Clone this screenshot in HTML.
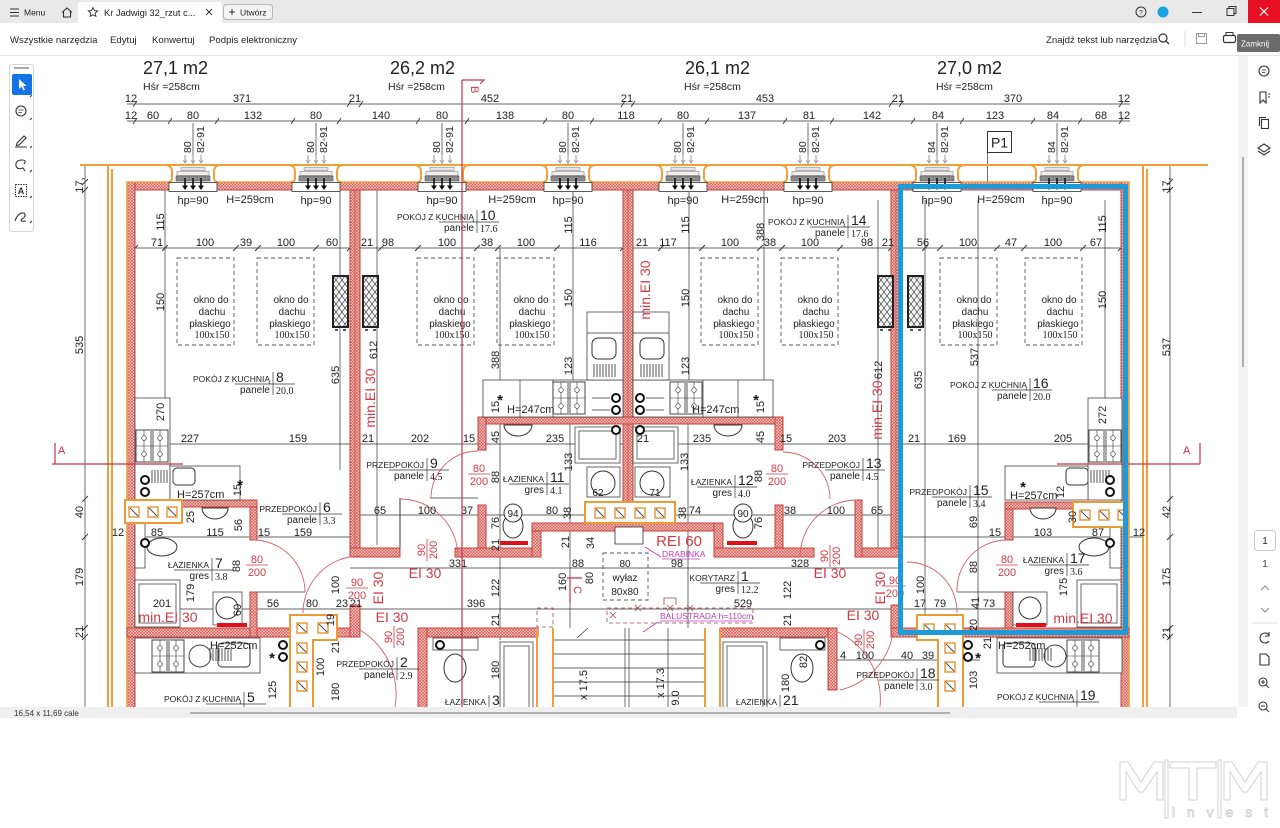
<!DOCTYPE html>
<html><head><meta charset="utf-8"><title>Kr Jadwigi 32 rzut</title>
<style>
html,body{margin:0;padding:0;background:#fff}
body{width:1280px;height:828px;overflow:hidden}
svg{display:block}
text{font-family:"Liberation Sans",sans-serif}
.d{font-size:11px;fill:#222}
.sm{font-size:10px;fill:#222}
.cap{font-size:8.5px;fill:#222}
.num{font-size:14px;fill:#222}
.ser{font-family:"Liberation Serif",serif;font-size:10px;fill:#222}
.rt{fill:#cf3b45}
.ln{stroke:#333;stroke-width:.7;fill:none}
.w{fill:url(#h);stroke:#c4403c;stroke-width:1}
.o{fill:none;stroke:#f0a03a;stroke-width:2}
.ob{fill:#fff;stroke:#ec9a33;stroke-width:2}
.k{fill:#fff;stroke:#444;stroke-width:.8}
.arc{fill:none;stroke:#d2616a;stroke-width:.9}
.ic{fill:none;stroke:#333;stroke-width:1.1}
.dash{fill:none;stroke:#555;stroke-width:.9;stroke-dasharray:4 3}
.bc{fill:#fff;stroke:#111;stroke-width:2}
</style></head><body>
<svg width="1280" height="828" viewBox="0 0 1280 828" xmlns="http://www.w3.org/2000/svg">
<defs>
<pattern id="h" patternUnits="userSpaceOnUse" width="3" height="3"><rect width="3" height="3" fill="#f5c6c1"/><path d="M0 0L3 3M3 0L0 3" stroke="#d4504a" stroke-width=".6"/></pattern>
<pattern id="xh" patternUnits="userSpaceOnUse" width="6" height="8"><rect width="6" height="8" fill="#f2f2f2"/><path d="M0 0L6 8M6 0L0 8" stroke="#333" stroke-width=".6"/></pattern>
<g id="vent">
<rect x="-24" y="166" width="48" height="26" fill="#fff"/>
<path d="M-28 165Q-21 165 -21 172V178Q-21 182 -25 182M28 165Q21 165 21 172V178Q21 182 25 182" fill="none" stroke="#f0a03a" stroke-width="2"/>
<rect x="-12" y="167.5" width="24" height="3" fill="#e6e6e6" stroke="#888" stroke-width=".6"/>
<rect x="-16" y="171.5" width="32" height="4" fill="#f0f0f0" stroke="#888" stroke-width=".6"/>
<rect x="-17" y="176" width="34" height="5" fill="#8a8a8a" stroke="#555" stroke-width=".6"/>
<rect x="-24" y="182.5" width="48" height="9" fill="#fff" stroke="#333" stroke-width=".8"/>
<path d="M-8 178V187M0 178V187M8 178V187" stroke="#111" stroke-width="1.6"/>
<path d="M-11 185.5L-8 190L-5 185.5ZM-3 185.5L0 190L3 185.5ZM5 185.5L8 190L11 185.5Z" fill="#111"/>
<path d="M-8 155V162M0 155V162M8 155V162" stroke="#999" stroke-width="1"/>
<path d="M-10 160L-8 163L-6 160M-2 160L0 163L2 160M6 160L8 163L10 160" fill="none" stroke="#999" stroke-width=".8"/>
</g>
<g id="stv"><rect x="0" y="0" width="32" height="32" fill="#fff" stroke="#333" stroke-width=".9"/><rect x="14" y="0" width="4" height="32" fill="#aaa"/><path d="M0 16H32M8 0V32M24 0V32" stroke="#333" stroke-width=".6"/><circle cx="8" cy="8" r="2.3" fill="#fff" stroke="#333" stroke-width=".7"/><circle cx="24" cy="8" r="2.3" fill="#fff" stroke="#333" stroke-width=".7"/><circle cx="8" cy="24" r="2.3" fill="#fff" stroke="#333" stroke-width=".7"/><circle cx="24" cy="24" r="2.3" fill="#fff" stroke="#333" stroke-width=".7"/></g>
<g id="sq"><rect x="0" y="0" width="10" height="10" fill="#fff" stroke="#e39432" stroke-width="1.4"/><path d="M1 1L9 9" stroke="#444" stroke-width=".9"/></g>
<g id="rad"><rect x="0" y="0" width="15" height="51" fill="url(#xh)" stroke="#222" stroke-width="2"/><path d="M2 54h3M10 54h3" stroke="#222" stroke-width="1.5"/></g>
<g id="grill"><path d="M0 0V13M3 0V13M6 0V13M9 0V13M12 0V13M15 0V13M18 0V13M21 0V13" stroke="#555" stroke-width="1"/></g>
<clipPath id="pg"><rect x="0" y="56" width="1237" height="651"/></clipPath>
</defs>

<!-- ===== window chrome ===== -->
<rect x="0" y="0" width="1280" height="23" fill="#e9e9e9"/>
<path d="M78 23V4Q78 2 80 2H220Q222 2 222 4V23Z" fill="#fff"/>
<path d="M10 9H19M10 12.5H19M10 16H19" stroke="#333" stroke-width="1.1"/>
<text x="24" y="15.5" font-size="8.5" fill="#222">Menu</text>
<path d="M62 12.5L67 8L72 12.5M63.5 11.5V17H70.5V11.5" class="ic"/>
<path d="M93 7.5L94.4 10.6L97.7 10.9L95.2 13.1L95.9 16.4L93 14.7L90.1 16.4L90.8 13.1L88.3 10.9L91.6 10.6Z" fill="none" stroke="#333" stroke-width=".9"/>
<text x="104" y="16" font-size="9.3" fill="#222">Kr Jadwigi 32_rzut c...</text>
<path d="M206 9L212 15M212 9L206 15" stroke="#333" stroke-width="1"/>
<rect x="223.5" y="4.5" width="49" height="15" rx="3" fill="#f3f3f3" stroke="#b8b8b8"/>
<path d="M229 12H235M232 9V15" stroke="#333" stroke-width="1"/>
<text x="240" y="15.5" font-size="8.5" fill="#222">Utwórz</text>
<circle cx="1141" cy="12" r="5" fill="none" stroke="#333"/><text x="1141" y="15" font-size="7" text-anchor="middle" fill="#333">?</text>
<circle cx="1163" cy="12" r="5.5" fill="#1ba1e2"/>
<path d="M1192 12.5H1202" stroke="#333"/>
<rect x="1227" y="8.5" width="7" height="7" fill="none" stroke="#333"/><path d="M1229 8.5V6.5H1236V13.5H1234" fill="none" stroke="#333"/>
<rect x="1248" y="0" width="32" height="23" fill="#e81123"/><path d="M1260 7.5L1268 15.5M1268 7.5L1260 15.5" stroke="#fff" stroke-width="1.2"/>

<g font-size="9.6" fill="#222"><text x="10" y="43">Wszystkie narzędzia</text><text x="110" y="43">Edytuj</text><text x="152" y="43">Konwertuj</text><text x="209" y="43">Podpis elektroniczny</text><text x="1046" y="43">Znajdź tekst lub narzędzia</text></g>
<circle cx="1163" cy="38" r="4" fill="none" stroke="#333" stroke-width="1.2"/><path d="M1166 41L1169 44" stroke="#333" stroke-width="1.3"/>
<path d="M1185 31V47" stroke="#ddd"/>
<rect x="1196.5" y="33.5" width="10" height="10" fill="none" stroke="#999"/><rect x="1198.5" y="33.5" width="6" height="3" fill="none" stroke="#999"/>
<rect x="1223.5" y="35.5" width="12" height="7" rx="1.5" fill="none" stroke="#333" stroke-width="1.2"/><rect x="1226" y="32.5" width="7" height="3" fill="none" stroke="#333"/>
<rect x="1237" y="34" width="43" height="18" rx="2" fill="#6b6b6b"/><text x="1241" y="46.5" font-size="8" fill="#fff">Zamknij</text>
<rect x="0" y="55" width="1280" height="1" fill="#e3e3e3"/>

<!-- ===== drawing ===== -->
<g clip-path="url(#pg)">
<g font-size="18" fill="#222"><text x="143" y="74">27,1 m2</text><text x="390" y="74">26,2 m2</text><text x="685" y="74">26,1 m2</text><text x="937" y="74">27,0 m2</text></g>
<g font-size="10.5" fill="#222"><text x="143" y="90">Hśr =258cm</text><text x="388" y="90">Hśr =258cm</text><text x="684" y="90">Hśr =258cm</text><text x="936" y="90">Hśr =258cm</text></g>

<!-- top dimension lines -->
<path class="ln" d="M127 104H1130M127 121H1130"/>
<path stroke="#333" stroke-width=".9" d="M133 107L137 101M347 107L351 101M359 107L363 101M621 107L625 101M631 107L635 101M889 107L893 101M899 107L903 101M1119 107L1123 101M133 124L137 118M168 124L172 118M215 124L219 118M291 124L295 118M337 124L341 118M416 124L420 118M465 124L469 118M543 124L547 118M590 124L594 118M658 124L662 118M705 124L709 118M783 124L787 118M830 124L834 118M911 124L915 118M960 124L964 118M1031 124L1035 118M1078 124L1082 118M1119 124L1123 118"/>
<g class="d" text-anchor="middle">
<text x="131" y="102">12</text><text x="242" y="102">371</text><text x="355" y="102">21</text><text x="490" y="102">452</text><text x="627" y="102">21</text><text x="765" y="102">453</text><text x="898" y="102">21</text><text x="1013" y="102">370</text><text x="1124" y="102">12</text>
<text x="131" y="119">12</text><text x="153" y="119">60</text><text x="193" y="119">80</text><text x="253" y="119">132</text><text x="316" y="119">80</text><text x="381" y="119">140</text><text x="442" y="119">80</text><text x="505" y="119">138</text><text x="568" y="119">80</text><text x="626" y="119">118</text><text x="683" y="119">80</text><text x="747" y="119">137</text><text x="809" y="119">81</text><text x="872" y="119">142</text><text x="938" y="119">84</text><text x="995" y="119">123</text><text x="1053" y="119">84</text><text x="1101" y="119">68</text><text x="1124" y="119">12</text>
</g>

<!-- vent leaders and dims -->
<path class="ln" d="M193 123V182M316 123V182M442 123V182M568 123V182M683 123V182M808 123V182M937 123V182M1057 123V182"/>
<g font-size="10.5" fill="#222">
<text transform="translate(191,153) rotate(-90)">80</text><text transform="translate(204,153) rotate(-90)">82-91</text>
<text transform="translate(314,153) rotate(-90)">80</text><text transform="translate(327,153) rotate(-90)">82-91</text>
<text transform="translate(440,153) rotate(-90)">80</text><text transform="translate(453,153) rotate(-90)">82-91</text>
<text transform="translate(566,153) rotate(-90)">80</text><text transform="translate(579,153) rotate(-90)">82-91</text>
<text transform="translate(681,153) rotate(-90)">80</text><text transform="translate(694,153) rotate(-90)">82-91</text>
<text transform="translate(806,153) rotate(-90)">80</text><text transform="translate(819,153) rotate(-90)">82-91</text>
<text transform="translate(935,153) rotate(-90)">84</text><text transform="translate(948,153) rotate(-90)">82-91</text>
<text transform="translate(1055,153) rotate(-90)">84</text><text transform="translate(1068,153) rotate(-90)">82-91</text>
</g>
<rect x="987.5" y="131.5" width="24" height="21" fill="#fff" stroke="#333" stroke-width="1"/>
<text x="999.5" y="147.5" font-size="14" text-anchor="middle" fill="#222">P1</text>
<path class="ln" d="M987.5 152V190"/>

<!-- long thin lines -->
<path class="ln" d="M135 248H1121M135 444H1121M357 515H897M127 537H355M900 537H1142M350 568H900M130 609H1007M835 660H980M430 498H478M253 592H305M957 592H1007"/>
<path class="ln" d="M165 190V440M340 190V470M377 190V545M500 248V640M573 190V417M570 417V628M689 190V417M688 417V628M764 190V417M878 200V555M925 200V620M978 200V630M1105 200V400M85 165V707M1170 165V707"/>
<path stroke="#333" stroke-width="1" fill="none" d="M400 498V557M857 500V557"/>
<path stroke="#333" stroke-width=".9" d="M82 185L88 179M82 193L88 187M82 502L88 496M82 540L88 534M82 631L88 625M82 640L88 634M1167 185L1173 179M1167 193L1173 187M1167 502L1173 496M1167 540L1173 534M1167 631L1173 625M1167 640L1173 634M132 251L138 245M162 251L168 245M233 251L239 245M255 251L261 245M313 251L319 245M347 251L353 245M378 251L384 245M415 251L421 245M474 251L480 245M495 251L501 245M554 251L560 245M620 251L626 245M658 251L664 245M699 251L705 245M757 251L763 245M779 251L785 245M837 251L843 245M888 251L894 245M922 251L928 245M937 251L943 245M994 251L1000 245M1021 251L1027 245M1080 251L1086 245M1118 251L1124 245"/>

<!-- outer orange -->
<path class="o" d="M80 165H1208M108 165V707M112 169V707M1143 165V707M1147 169V707"/>

<!-- walls -->
<rect class="w" x="127" y="182" width="1002" height="8"/>
<rect class="w" x="127" y="182" width="8" height="530"/>
<rect class="w" x="1121" y="182" width="8" height="530"/>
<path d="M127 182H1129M127 182V707M1129 182V707" fill="none" stroke="#f0a03a" stroke-width="1.6"/>
<rect class="w" x="350" y="190" width="10" height="367"/>
<rect class="w" x="623" y="190" width="10" height="333"/>
<rect class="w" x="891" y="190" width="10" height="367"/>
<path d="M355 190V557M628 190V523M896 190V557" stroke="#c4403c" stroke-width=".7"/>
<rect class="w" x="478" y="417" width="305" height="7"/>
<rect class="w" x="478" y="417" width="8" height="33"/>
<rect class="w" x="478" y="505" width="8" height="52"/>
<rect class="w" x="775" y="417" width="8" height="33"/>
<rect class="w" x="775" y="505" width="8" height="52"/>
<rect class="w" x="350" y="548" width="50" height="9"/>
<rect class="w" x="455" y="548" width="85" height="9"/>
<rect class="w" x="532" y="523" width="9" height="34"/>
<rect class="w" x="532" y="523" width="190" height="8"/>
<rect class="w" x="714" y="523" width="9" height="34"/>
<rect class="w" x="714" y="548" width="100" height="9"/>
<rect class="w" x="857" y="548" width="44" height="9"/>
<rect class="w" x="855" y="500" width="7" height="57"/>
<rect class="w" x="127" y="628" width="163" height="9"/>
<rect class="w" x="250" y="500" width="7" height="40"/>
<rect class="w" x="250" y="592" width="7" height="45"/>
<rect class="w" x="180" y="500" width="77" height="7"/>
<rect class="w" x="337" y="628" width="23" height="9"/>
<rect class="w" x="350" y="605" width="10" height="32"/>
<rect class="w" x="418" y="628" width="120" height="9"/>
<rect class="w" x="418" y="628" width="9" height="80"/>
<rect class="w" x="720" y="628" width="117" height="9"/>
<rect class="w" x="828" y="628" width="9" height="62"/>
<rect class="w" x="891" y="605" width="10" height="32"/>
<rect class="w" x="891" y="628" width="26" height="9"/>
<rect class="w" x="1005" y="502" width="8" height="38"/>
<rect class="w" x="1005" y="592" width="8" height="40"/>
<rect class="w" x="1005" y="502" width="68" height="7"/>
<rect class="w" x="963" y="628" width="166" height="9"/>

<!-- vents -->
<use href="#vent" x="193"/><use href="#vent" x="316"/><use href="#vent" x="442"/><use href="#vent" x="568"/><use href="#vent" x="683"/><use href="#vent" x="808"/><use href="#vent" x="937"/><use href="#vent" x="1057"/>
<g class="d" text-anchor="middle"><text x="193" y="204">hp=90</text><text x="316" y="204">hp=90</text><text x="442" y="204">hp=90</text><text x="568" y="204">hp=90</text><text x="683" y="204">hp=90</text><text x="808" y="204">hp=90</text><text x="937" y="204">hp=90</text><text x="1057" y="204">hp=90</text>
<text x="250" y="203">H=259cm</text><text x="512" y="203">H=259cm</text><text x="745" y="203">H=259cm</text><text x="1001" y="203">H=259cm</text></g>

<!-- roof windows -->
<g class="dash"><rect x="177" y="258" width="57" height="87"/><rect x="257" y="258" width="57" height="87"/><rect x="417" y="258" width="57" height="87"/><rect x="497" y="258" width="57" height="87"/><rect x="701" y="258" width="57" height="87"/><rect x="781" y="258" width="57" height="87"/><rect x="940" y="258" width="57" height="87"/><rect x="1025" y="258" width="57" height="87"/></g>
<g font-size="9.8" fill="#222" text-anchor="middle">
<text x="211" y="303">okno do</text><text x="212" y="315">dachu</text><text x="210" y="327">płaskiego</text><text x="212" y="338" class="ser">100x150</text>
<text x="291" y="303">okno do</text><text x="292" y="315">dachu</text><text x="290" y="327">płaskiego</text><text x="292" y="338" class="ser">100x150</text>
<text x="451" y="303">okno do</text><text x="452" y="315">dachu</text><text x="450" y="327">płaskiego</text><text x="452" y="338" class="ser">100x150</text>
<text x="531" y="303">okno do</text><text x="532" y="315">dachu</text><text x="530" y="327">płaskiego</text><text x="532" y="338" class="ser">100x150</text>
<text x="735" y="303">okno do</text><text x="736" y="315">dachu</text><text x="734" y="327">płaskiego</text><text x="736" y="338" class="ser">100x150</text>
<text x="815" y="303">okno do</text><text x="816" y="315">dachu</text><text x="814" y="327">płaskiego</text><text x="816" y="338" class="ser">100x150</text>
<text x="974" y="303">okno do</text><text x="975" y="315">dachu</text><text x="973" y="327">płaskiego</text><text x="975" y="338" class="ser">100x150</text>
<text x="1059" y="303">okno do</text><text x="1060" y="315">dachu</text><text x="1058" y="327">płaskiego</text><text x="1060" y="338" class="ser">100x150</text>
</g>
<use href="#rad" x="333" y="276"/><use href="#rad" x="363" y="276"/><use href="#rad" x="878" y="276"/><use href="#rad" x="908" y="276"/>

<!-- kitchens -->
<rect class="k" x="483" y="380" width="140" height="37"/><path class="ln" d="M520 380V417M553 380V417"/>
<use href="#stv" x="553" y="382"/>
<rect class="k" x="587" y="312" width="36" height="68"/><path class="ln" d="M587 333H623"/>
<rect x="592" y="338" width="24" height="21" rx="6" fill="#fff" stroke="#333"/><use href="#grill" x="594" y="364"/>
<rect class="k" x="633" y="380" width="140" height="37"/><path class="ln" d="M703 380V417M738 380V417"/>
<use href="#stv" x="670" y="382"/>
<rect class="k" x="633" y="312" width="36" height="68"/><path class="ln" d="M633 333H669"/>
<rect x="640" y="338" width="24" height="21" rx="6" fill="#fff" stroke="#333"/><use href="#grill" x="641" y="364"/>
<path class="ln" d="M592 398H610M592 410H610M592 430H610M646 398H664M646 410H664M646 430H664"/>
<rect class="k" x="135" y="398" width="35" height="102"/><use href="#stv" x="136" y="430"/>
<rect class="k" x="170" y="466" width="70" height="34"/><rect x="173" y="468" width="22" height="17" rx="4" fill="#fff" stroke="#333"/><use href="#grill" x="152" y="470"/>
<rect class="k" x="1088" y="398" width="34" height="102"/><use href="#stv" x="1089" y="430"/>
<rect class="k" x="1005" y="466" width="83" height="34"/><rect x="1066" y="468" width="22" height="17" rx="4" fill="#fff" stroke="#333"/><use href="#grill" x="1088" y="470"/>
<rect class="k" x="135" y="638" width="125" height="35"/><use href="#stv" x="152" y="640"/><circle cx="200" cy="656" r="11" fill="none" stroke="#444"/><rect x="218" y="643" width="32" height="24" rx="4" fill="#fff" stroke="#333"/><use href="#grill" x="210" y="648"/>
<rect class="k" x="997" y="638" width="125" height="35"/><use href="#stv" x="1067" y="640"/><circle cx="1055" cy="656" r="11" fill="none" stroke="#444"/><rect x="1003" y="643" width="32" height="24" rx="4" fill="#fff" stroke="#333"/><use href="#grill" x="1030" y="648"/>

<!-- bathrooms -->
<path d="M504 425A14 11 0 0 0 532 425Z" fill="#fff" stroke="#333"/><path d="M714 425A14 11 0 0 0 742 425Z" fill="#fff" stroke="#333"/>
<path d="M202 508A13 11 0 0 0 228 508Z" fill="#fff" stroke="#333"/><path d="M1030 508A13 11 0 0 0 1056 508Z" fill="#fff" stroke="#333"/>
<rect class="k" x="575" y="427" width="45" height="36"/><rect class="k" x="579" y="431" width="37" height="28"/>
<rect class="k" x="633" y="427" width="45" height="36"/><rect class="k" x="637" y="431" width="37" height="28"/>
<rect class="k" x="587" y="467" width="33" height="30"/><circle cx="603" cy="483" r="12" fill="none" stroke="#333"/>
<rect class="k" x="635" y="467" width="35" height="30"/><circle cx="652" cy="483" r="12" fill="none" stroke="#333"/>
<ellipse cx="513" cy="526" rx="10" ry="12" fill="#fff" stroke="#333"/><circle cx="513" cy="513" r="9" fill="#fff" stroke="#333"/>
<ellipse cx="743" cy="526" rx="10" ry="12" fill="#fff" stroke="#333"/><circle cx="743" cy="513" r="9" fill="#fff" stroke="#333"/>
<rect class="k" x="135" y="523" width="10" height="45"/><ellipse cx="162" cy="547" rx="15" ry="9" fill="#fff" stroke="#333"/>
<rect class="k" x="1110" y="523" width="11" height="45"/><ellipse cx="1094" cy="547" rx="15" ry="9" fill="#fff" stroke="#333"/>
<rect class="k" x="135" y="580" width="45" height="47"/><rect class="k" x="139" y="584" width="37" height="39"/>
<rect class="k" x="1077" y="580" width="44" height="47"/><rect class="k" x="1081" y="584" width="36" height="39"/>
<rect class="k" x="213" y="592" width="29" height="33"/><circle cx="227" cy="608" r="11" fill="none" stroke="#333"/>
<rect class="k" x="1013" y="592" width="34" height="33"/><circle cx="1030" cy="608" r="11" fill="none" stroke="#333"/>
<g fill="#e0101a"><rect x="500" y="541" width="28" height="4"/><rect x="727" y="541" width="30" height="4"/><rect x="217" y="623" width="30" height="4"/><rect x="1016" y="623" width="30" height="4"/></g>
<ellipse cx="455" cy="668" rx="11" ry="14" fill="#fff" stroke="#333"/><rect class="k" x="433" y="638" width="45" height="12"/>
<ellipse cx="802" cy="668" rx="11" ry="14" fill="#fff" stroke="#333"/><rect class="k" x="780" y="638" width="45" height="12"/>
<rect class="k" x="500" y="642" width="33" height="70"/><rect class="k" x="504" y="646" width="25" height="66"/>
<rect class="k" x="723" y="642" width="44" height="70"/><rect class="k" x="727" y="646" width="36" height="66"/>

<!-- stairs -->
<path class="ln" d="M553 640H705M553 654H705M553 668H705M553 682H705M553 696H705M625 628V707M629 628V707M668 628V707M577 638L588 628"/>
<path class="o" d="M537 628V707M553 628V707M705 628V707M720 628V707"/>
<rect x="615" y="527" width="28" height="17" fill="#fff" stroke="#333" stroke-width=".8"/>
<rect class="dash" x="603" y="553" width="45" height="47"/>
<path d="M607 608H753V623H607Z" fill="none" stroke="#a14b4b" stroke-width=".8" stroke-dasharray="4 3"/>
<rect x="537" y="608" width="16" height="19" fill="none" stroke="#a14b4b" stroke-width=".8" stroke-dasharray="4 3"/>
<path d="M635 605L641 611M641 605L635 611M667 605L673 611M673 605L667 611M687 605L693 611M693 605L687 611M610 612L616 618M616 612L610 618M664 605V598H676V605" stroke="#a14b4b" stroke-width=".8" fill="none"/>

<!-- orange shaft boxes -->
<rect class="ob" x="125" y="500" width="57" height="23"/><use href="#sq" x="129" y="507"/><use href="#sq" x="148" y="507"/><use href="#sq" x="167" y="507"/>
<rect class="ob" x="1073" y="502" width="55" height="25"/><use href="#sq" x="1080" y="510"/><use href="#sq" x="1099" y="510"/><use href="#sq" x="1118" y="510"/>
<rect class="ob" x="585" y="502" width="90" height="21"/><use href="#sq" x="595" y="508"/><use href="#sq" x="615" y="508"/><use href="#sq" x="635" y="508"/><use href="#sq" x="655" y="508"/>
<path class="ob" d="M290 615H337V640H313V712H290Z"/><use href="#sq" x="297" y="623"/><use href="#sq" x="318" y="623"/><use href="#sq" x="297" y="643"/><use href="#sq" x="297" y="662"/><use href="#sq" x="297" y="681"/>
<path class="ob" d="M917 615H963V712H938V640H917Z"/><use href="#sq" x="924" y="624"/><use href="#sq" x="945" y="624"/><use href="#sq" x="945" y="643"/><use href="#sq" x="945" y="662"/><use href="#sq" x="945" y="681"/>

<!-- black circles -->
<g class="bc"><circle cx="616" cy="398" r="4"/><circle cx="616" cy="410" r="4"/><circle cx="616" cy="430" r="4"/><circle cx="640" cy="398" r="4"/><circle cx="640" cy="410" r="4"/><circle cx="640" cy="430" r="4"/><circle cx="145" cy="480" r="4"/><circle cx="145" cy="492" r="4"/><circle cx="145" cy="543" r="4"/><circle cx="283" cy="645" r="4"/><circle cx="283" cy="657" r="4"/><circle cx="1110" cy="480" r="4"/><circle cx="1110" cy="492" r="4"/><circle cx="1110" cy="543" r="4"/><circle cx="968" cy="645" r="4"/><circle cx="968" cy="657" r="4"/><circle cx="440" cy="645" r="4"/><circle cx="820" cy="645" r="4"/></g>

<!-- door arcs -->
<g class="arc">
<path d="M400 499A58 58 0 0 1 458 557"/>
<path d="M431 498A47 47 0 0 1 478 451"/>
<path d="M783 452A47 47 0 0 1 830 499"/>
<path d="M857 500A57 57 0 0 0 800 557"/>
<path d="M253 540A52 52 0 0 1 305 592"/>
<path d="M1007 540A50 50 0 0 0 957 592"/>
<path d="M303 613A57 57 0 0 1 360 556"/>
<path d="M360 630A75 75 0 0 1 395 707"/>
<path d="M907 562A50 50 0 0 1 957 613"/>
<path d="M893 633A70 70 0 0 1 840 690"/>
<path d="M838 632A75 75 0 0 1 880 707"/>
</g>

<!-- dimension numbers -->
<g class="d" text-anchor="middle">
<text x="157" y="246">71</text><text x="205" y="246">100</text><text x="246" y="246">39</text><text x="286" y="246">100</text><text x="332" y="246">60</text><text x="367" y="246">21</text><text x="388" y="246">98</text><text x="447" y="246">100</text><text x="487" y="246">38</text><text x="526" y="246">100</text><text x="588" y="246">116</text><text x="642" y="246">21</text><text x="668" y="246">117</text><text x="730" y="246">100</text><text x="770" y="246">38</text><text x="810" y="246">100</text><text x="867" y="246">98</text><text x="888" y="246">21</text><text x="923" y="246">56</text><text x="968" y="246">100</text><text x="1011" y="246">47</text><text x="1053" y="246">100</text><text x="1096" y="246">67</text>
<text x="190" y="442">227</text><text x="298" y="442">159</text><text x="368" y="442">21</text><text x="420" y="442">202</text><text x="469" y="442">15</text><text x="555" y="442">235</text><text x="643" y="442">21</text><text x="702" y="442">235</text><text x="786" y="442">15</text><text x="837" y="442">203</text><text x="914" y="442">21</text><text x="957" y="442">169</text><text x="1063" y="442">205</text>
<text x="380" y="514">65</text><text x="427" y="514">100</text><text x="467" y="514">37</text><text x="513" y="517" font-size="10">94</text><text x="552" y="514">80</text><text x="695" y="514">74</text><text x="743" y="517" font-size="10">90</text><text x="790" y="514">38</text><text x="836" y="514">100</text><text x="877" y="514">65</text>
<text x="118" y="536">12</text><text x="157" y="536">85</text><text x="215" y="536">115</text><text x="264" y="536">15</text><text x="303" y="536">159</text><text x="995" y="536">15</text><text x="1043" y="536">103</text><text x="1098" y="536">87</text><text x="1139" y="536">12</text>
<text x="458" y="567">331</text><text x="578" y="567">88</text><text x="677" y="567">98</text><text x="800" y="567">328</text>
<text x="162" y="607">201</text><text x="273" y="607">56</text><text x="312" y="607">80</text><text x="342" y="607">23</text><text x="356" y="607">21</text><text x="476" y="607">396</text><text x="743" y="607">529</text><text x="920" y="607">17</text><text x="940" y="607">79</text><text x="989" y="607">73</text>
<text x="843" y="659">4</text><text x="865" y="659">100</text><text x="907" y="659">40</text><text x="928" y="659">39</text>
<text x="598" y="496" font-size="10">62</text><text x="655" y="496" font-size="10">71</text>
</g>
<g class="d" text-anchor="middle">
<text transform="translate(83,185) rotate(-90)">17,</text><text transform="translate(83,345) rotate(-90)">535</text><text transform="translate(83,512) rotate(-90)">40</text><text transform="translate(83,577) rotate(-90)">179</text><text transform="translate(83,632) rotate(-90)">21</text>
<text transform="translate(1170,185) rotate(-90)">17,</text><text transform="translate(1170,347) rotate(-90)">537</text><text transform="translate(1170,512) rotate(-90)">42</text><text transform="translate(1170,577) rotate(-90)">175</text><text transform="translate(1170,633) rotate(-90)">21</text>
<text transform="translate(164,222) rotate(-90)">115</text><text transform="translate(164,302) rotate(-90)">150</text><text transform="translate(164,412) rotate(-90)">270</text>
<text transform="translate(339,375) rotate(-90)">635</text><text transform="translate(377,350) rotate(-90)">612</text>
<text transform="translate(499,360) rotate(-90)">388</text><text transform="translate(499,407) rotate(-90)">15</text><text transform="translate(499,437) rotate(-90)">45</text><text transform="translate(499,477) rotate(-90)">88</text><text transform="translate(499,523) rotate(-90)">76</text><text transform="translate(499,545) rotate(-90)">21</text>
<text transform="translate(572,225) rotate(-90)">115</text><text transform="translate(572,298) rotate(-90)">150</text><text transform="translate(572,366) rotate(-90)">123</text><text transform="translate(572,462) rotate(-90)">133</text>
<text transform="translate(689,225) rotate(-90)">115</text><text transform="translate(689,298) rotate(-90)">150</text><text transform="translate(689,366) rotate(-90)">123</text><text transform="translate(688,462) rotate(-90)">133</text>
<text transform="translate(764,232) rotate(-90)">388</text><text transform="translate(764,407) rotate(-90)">15</text><text transform="translate(764,437) rotate(-90)">45</text><text transform="translate(762,476) rotate(-90)">88</text><text transform="translate(762,523) rotate(-90)">76</text>
<text transform="translate(882,370) rotate(-90)">612</text><text transform="translate(922,380) rotate(-90)">635</text><text transform="translate(978,357) rotate(-90)">537</text>
<text transform="translate(1106,224) rotate(-90)">115</text><text transform="translate(1106,300) rotate(-90)">150</text><text transform="translate(1106,415) rotate(-90)">272</text>
<text transform="translate(977,522) rotate(-90)">69</text><text transform="translate(977,567) rotate(-90)">88</text><text transform="translate(977,625) rotate(-90)">20</text><text transform="translate(979,603) rotate(-90)">41</text><text transform="translate(924,585) rotate(-90)">100</text><text transform="translate(1067,587) rotate(-90)">175</text><text transform="translate(1076,517) rotate(-90)">30</text><text transform="translate(1064,492) rotate(-90)">12</text><text transform="translate(991,643) rotate(-90)">21</text><text transform="translate(977,680) rotate(-90)">103</text>
<text transform="translate(194,517) rotate(-90)">25</text><text transform="translate(242,525) rotate(-90)">56</text><text transform="translate(240,566) rotate(-90)">88</text><text transform="translate(194,593) rotate(-90)">179</text><text transform="translate(241,610) rotate(-90)">60</text><text transform="translate(339,585) rotate(-90)">100</text><text transform="translate(334,620) rotate(-90)">19</text><text transform="translate(339,647) rotate(-90)">21</text><text transform="translate(324,667) rotate(-90)">100</text><text transform="translate(276,690) rotate(-90)">125</text><text transform="translate(339,692) rotate(-90)">180</text>
<text transform="translate(499,588) rotate(-90)">122</text><text transform="translate(499,620) rotate(-90)">21</text><text transform="translate(499,670) rotate(-90)">180</text>
<text transform="translate(566,582) rotate(-90)">160</text><text transform="translate(593,578) rotate(-90)">80</text><text transform="translate(594,543) rotate(-90)">34</text><text transform="translate(569,542) rotate(-90)">21</text>
<text transform="translate(791,590) rotate(-90)">122</text><text transform="translate(791,620) rotate(-90)">21</text><text transform="translate(789,683) rotate(-90)">180</text><text transform="translate(807,662) rotate(-90)">82</text>
<text transform="translate(571,513) rotate(-90)">38</text><text transform="translate(686,513) rotate(-90)">38</text><text transform="translate(241,490) rotate(-90)">15</text>
<text transform="translate(587,685) rotate(-90)">x 17.5</text><text transform="translate(664,683) rotate(-90)">x 17.3</text><text transform="translate(679,698) rotate(-90)">9.0</text>
</g>
<g font-size="15" font-weight="bold" fill="#111" text-anchor="middle"><text x="500" y="405">*</text><text x="756" y="405">*</text><text x="240" y="490">*</text><text x="1023" y="492">*</text><text x="272" y="663">*</text><text x="978" y="663">*</text></g>
<g class="d"><text x="507" y="413">H=247cm</text><text x="692" y="413">H=247cm</text><text x="177" y="498">H=257cm</text><text x="1010" y="499">H=257cm</text><text x="210" y="649">H=252cm</text><text x="998" y="649">H=252cm</text></g>

<!-- wyłaz -->
<g class="sm" text-anchor="middle"><text x="625" y="567">80</text><text x="625" y="581">wyłaz</text><text x="625" y="595">80x80</text></g>

<!-- room labels -->
<g>
<g transform="translate(273,382)"><text class="cap" x="-3" y="0" text-anchor="end">POKÓJ Z KUCHNIĄ</text><text class="num" x="3" y="0">8</text><path class="ln" d="M0 -10V13M-38 2H22"/><text class="sm" x="-3" y="11" text-anchor="end">panele</text><text class="ser" x="3" y="12">20.0</text></g>
<g transform="translate(477,220)"><text class="cap" x="-3" y="0" text-anchor="end">POKÓJ Z KUCHNIĄ</text><text class="num" x="3" y="0">10</text><path class="ln" d="M0 -10V13M-38 2H22"/><text class="sm" x="-3" y="11" text-anchor="end">panele</text><text class="ser" x="3" y="12">17.6</text></g>
<g transform="translate(848,225)"><text class="cap" x="-3" y="0" text-anchor="end">POKÓJ Z KUCHNIĄ</text><text class="num" x="3" y="0">14</text><path class="ln" d="M0 -10V13M-38 2H22"/><text class="sm" x="-3" y="11" text-anchor="end">panele</text><text class="ser" x="3" y="12">17.6</text></g>
<g transform="translate(1030,388)"><text class="cap" x="-3" y="0" text-anchor="end">POKÓJ Z KUCHNIĄ</text><text class="num" x="3" y="0">16</text><path class="ln" d="M0 -10V13M-38 2H22"/><text class="sm" x="-3" y="11" text-anchor="end">panele</text><text class="ser" x="3" y="12">20.0</text></g>
<g transform="translate(427,468)"><text class="cap" x="-3" y="0" text-anchor="end">PRZEDPOKÓJ</text><text class="num" x="3" y="0">9</text><path class="ln" d="M0 -10V13M-38 2H22"/><text class="sm" x="-3" y="11" text-anchor="end">panele</text><text class="ser" x="3" y="12">4.5</text></g>
<g transform="translate(547,482)"><text class="cap" x="-3" y="0" text-anchor="end">ŁAZIENKA</text><text class="num" x="3" y="0">11</text><path class="ln" d="M0 -10V13M-38 2H22"/><text class="sm" x="-3" y="11" text-anchor="end">gres</text><text class="ser" x="3" y="12">4.1</text></g>
<g transform="translate(735,485)"><text class="cap" x="-3" y="0" text-anchor="end">ŁAZIENKA</text><text class="num" x="3" y="0">12</text><path class="ln" d="M0 -10V13M-38 2H22"/><text class="sm" x="-3" y="11" text-anchor="end">gres</text><text class="ser" x="3" y="12">4.0</text></g>
<g transform="translate(863,468)"><text class="cap" x="-3" y="0" text-anchor="end">PRZEDPOKÓJ</text><text class="num" x="3" y="0">13</text><path class="ln" d="M0 -10V13M-38 2H22"/><text class="sm" x="-3" y="11" text-anchor="end">panele</text><text class="ser" x="3" y="12">4.5</text></g>
<g transform="translate(320,512)"><text class="cap" x="-3" y="0" text-anchor="end">PRZEDPOKÓJ</text><text class="num" x="3" y="0">6</text><path class="ln" d="M0 -10V13M-38 2H22"/><text class="sm" x="-3" y="11" text-anchor="end">panele</text><text class="ser" x="3" y="12">3.3</text></g>
<g transform="translate(212,568)"><text class="cap" x="-3" y="0" text-anchor="end">ŁAZIENKA</text><text class="num" x="3" y="0">7</text><path class="ln" d="M0 -10V13M-38 2H22"/><text class="sm" x="-3" y="11" text-anchor="end">gres</text><text class="ser" x="3" y="12">3.8</text></g>
<g transform="translate(970,495)"><text class="cap" x="-3" y="0" text-anchor="end">PRZEDPOKÓJ</text><text class="num" x="3" y="0">15</text><path class="ln" d="M0 -10V13M-38 2H22"/><text class="sm" x="-3" y="11" text-anchor="end">panele</text><text class="ser" x="3" y="12">3.4</text></g>
<g transform="translate(1067,563)"><text class="cap" x="-3" y="0" text-anchor="end">ŁAZIENKA</text><text class="num" x="3" y="0">17</text><path class="ln" d="M0 -10V13M-38 2H22"/><text class="sm" x="-3" y="11" text-anchor="end">gres</text><text class="ser" x="3" y="12">3.6</text></g>
<g transform="translate(738,581)"><text class="cap" x="-3" y="0" text-anchor="end">KORYTARZ</text><text class="num" x="3" y="0">1</text><path class="ln" d="M0 -10V13M-38 2H22"/><text class="sm" x="-3" y="11" text-anchor="end">gres</text><text class="ser" x="3" y="12">12.2</text></g>
<g transform="translate(397,667)"><text class="cap" x="-3" y="0" text-anchor="end">PRZEDPOKÓJ</text><text class="num" x="3" y="0">2</text><path class="ln" d="M0 -10V13M-38 2H22"/><text class="sm" x="-3" y="11" text-anchor="end">panele</text><text class="ser" x="3" y="12">2.9</text></g>
<g transform="translate(917,678)"><text class="cap" x="-3" y="0" text-anchor="end">PRZEDPOKÓJ</text><text class="num" x="3" y="0">18</text><path class="ln" d="M0 -10V13M-38 2H22"/><text class="sm" x="-3" y="11" text-anchor="end">panele</text><text class="ser" x="3" y="12">3.0</text></g>
<g transform="translate(244,702)"><text class="cap" x="-3" y="0" text-anchor="end">POKÓJ Z KUCHNIĄ</text><text class="num" x="3" y="0">5</text><path class="ln" d="M0 -10V13M-38 2H22"/></g>
<g transform="translate(489,705)"><text class="cap" x="-3" y="0" text-anchor="end">ŁAZIENKA</text><text class="num" x="3" y="0">3</text><path class="ln" d="M0 -10V13"/></g>
<g transform="translate(780,705)"><text class="cap" x="-3" y="0" text-anchor="end">ŁAZIENKA</text><text class="num" x="3" y="0">21</text><path class="ln" d="M0 -10V13"/></g>
<g transform="translate(1077,700)"><text class="cap" x="-3" y="0" text-anchor="end">POKÓJ Z KUCHNIĄ</text><text class="num" x="3" y="0">19</text><path class="ln" d="M0 -10V13M-38 2H22"/></g>
</g>

<!-- red fire-rating texts -->
<g class="rt" font-size="14" text-anchor="middle">
<text transform="translate(375,398) rotate(-90)">min.EI 30</text>
<text transform="translate(650,290) rotate(-90)">min.EI 30</text>
<text transform="translate(882,410) rotate(-90)">min.EI 30</text>
<text x="168" y="622">min.EI 30</text>
<text x="1083" y="623">min.EI 30</text>
<text x="425" y="578">EI 30</text>
<text x="392" y="622">EI 30</text>
<text x="830" y="578">EI 30</text>
<text x="863" y="620">EI 30</text>
<text transform="translate(383,588) rotate(-90)">EI 30</text>
<text transform="translate(885,588) rotate(-90)">EI 30</text>
<text x="679" y="546" font-size="15">REI 60</text>
</g>
<g class="rt" font-size="11" text-anchor="middle">
<text x="479" y="472">80</text><text x="479" y="485">200</text>
<text x="257" y="563">80</text><text x="257" y="576">200</text>
<text x="777" y="472">80</text><text x="777" y="485">200</text>
<text x="1007" y="563">80</text><text x="1007" y="576">200</text>
<text x="357" y="586">90</text><text x="357" y="599">200</text>
<text x="895" y="584">90</text><text x="895" y="597">200</text>
<g transform="translate(427,550) rotate(-90)"><text x="0" y="-2">90</text><text x="0" y="10">200</text></g>
<g transform="translate(394,637) rotate(-90)"><text x="0" y="-2">90</text><text x="0" y="10">200</text></g>
<g transform="translate(830,556) rotate(-90)"><text x="0" y="-2">90</text><text x="0" y="10">200</text></g>
<g transform="translate(864,640) rotate(-90)"><text x="0" y="-2">90</text><text x="0" y="10">200</text></g>
</g>
<path stroke="#cf3b45" stroke-width=".8" d="M468 474H490M246 565H268M766 474H788M996 565H1018M346 588H368M884 586H906M427 539V561M394 626V648M830 545V567M864 629V651"/>

<!-- magenta notes -->
<g fill="#c03cb8" font-size="8.5"><text x="662" y="557">DRABINKA</text><text x="660" y="619">BALUSTRADA h=110cm</text></g>
<path stroke="#c03cb8" stroke-width=".8" fill="none" d="M662 559H700M660 621H752M661 557L645 547M658 622L643 632"/>

<!-- section lines -->
<path stroke="#c8324a" stroke-width="1.2" fill="none" d="M462 80V707M462 80H484L480 84M52 464H183M55 443V464M1057 464H1200M1200 443V464M567 578H582M570 578V603"/>
<g fill="#c8324a" font-size="11"><text x="58" y="454">A</text><text x="1183" y="454">A</text><text transform="translate(471,86) rotate(90)">B</text><text transform="translate(574,586) rotate(90)">C</text></g>

<!-- highlighted unit -->
<rect x="900.5" y="186.5" width="225" height="446" fill="none" stroke="#1d9ad8" stroke-width="5"/>
</g>

<!-- left tool panel -->
<rect x="9.5" y="64.5" width="24" height="167" rx="3" fill="#fff" stroke="#d6d6d6"/>
<path d="M14 68H29" stroke="#aaa" stroke-width="2"/>
<rect x="12" y="74" width="20" height="21" rx="2" fill="#1473e6"/>
<path d="M19 79L19 89L21.5 86.5L23.5 90.5L25 89.8L23 86L26.5 86Z" fill="#fff"/>
<circle cx="21" cy="111" r="5" class="ic"/><path d="M18.5 110H23.5M18.5 112.5H22" stroke="#333" stroke-width=".8"/>
<path d="M17 143L24 136L26 138L19 145L16.5 145.5Z" class="ic"/><path d="M15 147H27" stroke="#333"/>
<path d="M24 164Q27 160 22 160Q15 160 16 166Q17 170 23 168L25 171" class="ic"/>
<rect x="15.5" y="184.5" width="11" height="12" fill="none" stroke="#333" stroke-dasharray="1.5 1"/><text x="21" y="194" font-size="9" font-weight="bold" text-anchor="middle" fill="#333">A</text>
<path d="M15 221Q18 212 24 213Q27 216 22 219Q19 222 26 221" class="ic"/>
<path d="M30 97L32 95M30 120L32 118M30 148L32 146M30 172L32 170M30 198L32 196M30 223L32 221" stroke="#333"/>

<!-- right sidebar -->
<rect x="1238" y="56" width="10" height="651" fill="#f4f4f4"/>
<path d="M1243 157V367" stroke="#b0b0b0" stroke-width="2"/>
<circle cx="1264" cy="71" r="5" class="ic"/><path d="M1262 70H1266M1262 72.5H1265" stroke="#333" stroke-width=".8"/>
<path d="M1260 92H1266V103L1263 100L1260 103Z" class="ic"/><path d="M1268 94H1270M1268 97H1270" stroke="#333"/>
<rect x="1261.5" y="119.5" width="7" height="9" class="ic"/><path d="M1259.5 126V117.5H1266" class="ic"/>
<path d="M1264 144L1270 148L1264 152L1258 148Z" class="ic"/><path d="M1258 151L1264 155L1270 151" class="ic"/>
<rect x="1254.5" y="530.5" width="21" height="20" rx="3" fill="#fff" stroke="#ccc"/>
<text x="1265" y="544" font-size="10" text-anchor="middle" fill="#222">1</text>
<text x="1265" y="567" font-size="10" text-anchor="middle" fill="#444">1</text>
<path d="M1261 590L1265 586L1269 590M1261 608L1265 612L1269 608" fill="none" stroke="#888"/>
<path d="M1252 623H1278" stroke="#ddd"/>
<path d="M1269 635A5 5 0 1 0 1269 641M1269 632V636H1265" class="ic"/>
<path d="M1260 654H1266L1269 657V665H1260Z" class="ic"/>
<circle cx="1263" cy="682" r="4" class="ic"/><path d="M1266 685L1269 688M1261 682H1265M1263 680V684" stroke="#333"/>
<circle cx="1263" cy="706" r="4" class="ic"/><path d="M1266 709L1269 712M1261 706H1265" stroke="#333"/>

<!-- status bar -->
<rect x="0" y="707" width="1237" height="11" fill="#efefef"/>
<text x="14" y="716" font-size="8" fill="#333">16,54 x 11,69 cale</text>
<path d="M190 713H950" stroke="#8a8a8a" stroke-width="1.2"/>

<!-- watermark -->
<g fill="none" stroke="#d2d2d2" stroke-width="1">
<path d="M1120 800V762H1128L1141 782L1154 762H1163V800H1157V772L1143 792H1139L1126 772V800Z"/>
<rect x="1165" y="760" width="3" height="58"/>
<path d="M1170 762H1216V768H1197V800H1189V768H1170Z"/>
<rect x="1218" y="760" width="3" height="58"/>
<path d="M1224 800V762H1232L1245 782L1258 762H1267V800H1261V772L1247 792H1243L1230 772V800Z"/>
</g>
<text x="1172" y="817" font-size="14" fill="#fff" stroke="#cfcfcf" stroke-width=".8" textLength="96" lengthAdjust="spacing">invest</text>
</svg>
</body></html>
